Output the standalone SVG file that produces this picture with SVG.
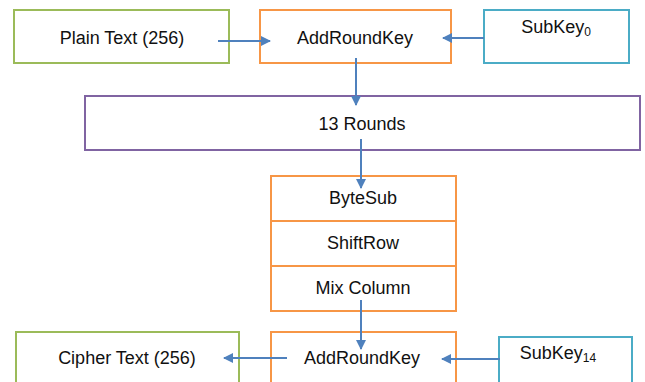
<svg xmlns="http://www.w3.org/2000/svg" width="645" height="382" viewBox="0 0 645 382">
<style>
.box{fill:#fff;stroke-width:2}
.g{stroke:#9BBB59}.o{stroke:#F79646}.b{stroke:#4BACC6}.p{stroke:#8064A2}
text{font-family:"Liberation Sans",Arial,sans-serif;font-size:18px;fill:#111;text-anchor:middle;dominant-baseline:central}
.sub{font-size:12px}
.c{stroke:#4F81BD;stroke-width:2;fill:none;marker-end:url(#ah)}
</style>
<defs>
<marker id="ah" viewBox="0 0 10 10" refX="9" refY="5" markerWidth="5" markerHeight="5" orient="auto" markerUnits="strokeWidth">
<path d="M0,0 L10,5 L0,10 z" fill="#4F81BD"/>
</marker>
</defs>
<rect width="645" height="382" fill="#fff"/>
<g id="plain"><rect class="box g" x="14" y="10" width="215" height="53"/><text x="122" y="38">Plain Text (256)</text></g>
<g id="ark1"><rect class="box o" x="260" y="10" width="191" height="53"/><text x="355" y="38">AddRoundKey</text></g>
<g id="subkey0"><rect class="box b" x="484" y="10" width="145" height="53"/><text x="556" y="27">SubKey<tspan class="sub" dy="5">0</tspan></text></g>
<g id="rounds"><rect class="box p" x="85" y="96" width="555" height="54"/><text x="362" y="124">13 Rounds</text></g>
<g id="bytesub"><rect class="box o" x="271" y="176" width="185" height="45"/><text x="363" y="198">ByteSub</text></g>
<g id="shiftrow"><rect class="box o" x="271" y="221" width="185" height="45"/><text x="363" y="243">ShiftRow</text></g>
<g id="mixcol"><rect class="box o" x="271" y="266" width="185" height="45"/><text x="363" y="288">Mix Column</text></g>
<g id="cipher"><rect class="box g" x="16" y="332" width="223" height="60"/><text x="127" y="358">Cipher Text (256)</text></g>
<g id="ark2"><rect class="box o" x="271" y="332" width="185" height="60"/><text x="362" y="358">AddRoundKey</text></g>
<g id="subkey14"><rect class="box b" x="499" y="337" width="133" height="60"/><text x="558" y="353">SubKey<tspan class="sub" dy="5">14</tspan></text></g>
<g id="connectors">
<line class="c" x1="218" y1="41" x2="270" y2="41"/>
<line class="c" x1="484" y1="38" x2="443" y2="38"/>
<line class="c" x1="356" y1="58" x2="356" y2="105"/>
<line class="c" x1="361" y1="139" x2="361" y2="188"/>
<line class="c" x1="361" y1="300" x2="361" y2="349"/>
<line class="c" x1="287" y1="358" x2="224" y2="358"/>
<line class="c" x1="500" y1="359" x2="442" y2="359"/>
</g>
</svg>
